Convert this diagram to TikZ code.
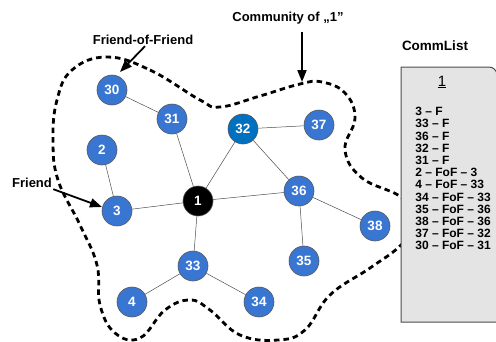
\documentclass[tikz,border=0pt]{standalone}
\usepackage{fontspec}
\setmainfont{Liberation Sans}
\usetikzlibrary{arrows.meta}
\definecolor{nodeblue}{RGB}{56,118,210}
\definecolor{darkblue}{RGB}{0,112,192}
\definecolor{listgray}{RGB}{228,228,228}

\begin{document}
\begin{tikzpicture}[x=1pt, y=-1pt, thick]
  % Styles
  \tikzstyle{member} = [circle, draw=black!65, line width=0.6pt, fill=nodeblue, text=white, font=\fontsize{13.5}{13.5}\selectfont\bfseries, minimum size=30pt, inner sep=0pt]
  \tikzstyle{seed} = [member, fill=black]
  \tikzstyle{link} = [draw=black!70, line width=0.5pt]
  \tikzstyle{callout} = [font=\fontsize{13}{13}\selectfont\bfseries, inner sep=1pt]
  \tikzstyle{arrow} = [draw, -{Triangle[length=12pt,width=9pt]}, line width=1.8pt]
  \tikzstyle{boundary} = [draw, line width=2.8pt, dash pattern=on 5.5pt off 4pt]
  \tikzstyle{listbox} = [draw=black!70, line width=1pt, fill=listgray]

  \useasboundingbox (0,0) rectangle (496,341);

  % Community boundary
  \path[boundary] plot[smooth cycle, tension=0.7] coordinates {
    (107,57) (150,70) (200,100) (220,107) (260,96) (300,84) (322,82)
    (345,93) (355,118) (345,150) (362,178) (401,197) (418,220) (401,245)
    (370,268) (330,295) (305,330) (278,340) (240,335) (210,310) (190,300)
    (165,310) (140,338) (115,333) (100,305) (97,265) (80,225) (58,180)
    (53,140) (57,100) (72,70)};

  % Nodes
  \node[seed] (n1) at (198,201) {1};
  \node[member] (n30) at (112,90) {30};
  \node[member] (n31) at (172,119) {31};
  \node[member] (n2) at (102,150) {2};
  \node[member, fill=darkblue] (n32) at (243,129) {32};
  \node[member] (n37) at (319,125) {37};
  \node[member] (n3) at (117,211) {3};
  \node[member] (n36) at (299,191) {36};
  \node[member] (n38) at (375,226) {38};
  \node[member] (n35) at (304,261) {35};
  \node[member] (n33) at (193,266) {33};
  \node[member] (n4) at (132,302) {4};
  \node[member] (n34) at (259,302) {34};

  % Edges
  \path[link] (n30) -- (n31);
  \path[link] (n31) -- (n1);
  \path[link] (n32) -- (n1);
  \path[link] (n32) -- (n37);
  \path[link] (n32) -- (n36);
  \path[link] (n2) -- (n3);
  \path[link] (n3) -- (n1);
  \path[link] (n1) -- (n36);
  \path[link] (n1) -- (n33);
  \path[link] (n36) -- (n38);
  \path[link] (n36) -- (n35);
  \path[link] (n33) -- (n4);
  \path[link] (n33) -- (n34);

  % Callouts
  \node[callout] (fof) at (143,40) {Friend-of-Friend};
  \node[callout] (comm) at (288,18) {Community of „1"};
  \node[callout] (friend) at (32,183) {Friend};
  \coordinate (fofTip) at (120,72);
  \coordinate (commTip) at (302,82);
  \coordinate (friendTip) at (102,207);
  \path[arrow] ([xshift=2pt]fof.south) -- (fofTip);
  \path[arrow] ([yshift=-7pt]comm.south -| commTip) -- (commTip);
  \path[arrow] (friend.south east) -- (friendTip);

  % CommList
  \path[listbox] (401,322) -- (401,67) [rounded corners=8pt] -- (497,67) -- (497,200) [sharp corners] -- (497,322) -- cycle;
  \node[callout, font=\fontsize{13.5}{13.5}\selectfont\bfseries] (listname) at (435,46) {CommList};
  \node[font=\fontsize{15}{15}\selectfont] (owner) at (442,82) {\underline{1}};
  \node[anchor=north west, align=left, inner sep=0pt, font=\fontsize{12}{12.2}\selectfont\bfseries] (entries) at (415,107) {%
    3 – F\\33 – F\\36 – F\\32 – F\\31 – F\\2 – FoF – 3\\4 – FoF – 33\\34 – FoF – 33\\%
    35 – FoF – 36\\38 – FoF – 36\\37 – FoF – 32\\30 – FoF – 31};
\end{tikzpicture}
\end{document}
